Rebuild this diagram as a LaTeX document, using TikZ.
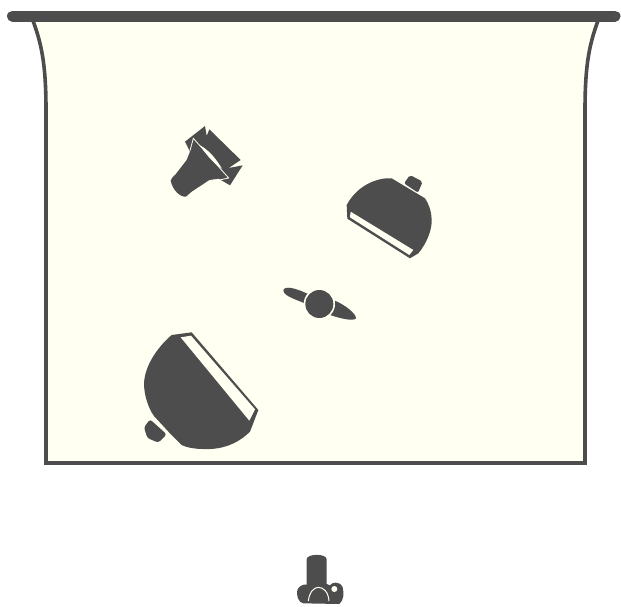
\documentclass[tikz,border=0pt]{standalone}
\usepackage{xcolor}
\definecolor{gear}{HTML}{4D4D4D}
\definecolor{paper}{HTML}{FFFFF2}
\begin{document}
\begin{tikzpicture}[
  x=1pt, y=-1pt,
  solid/.style={fill=gear, draw=none},
  cutout/.style={fill=paper, draw=none},
  glint/.style={draw=paper, line width=0.8pt, fill=none},
  zoomed/.style={shift={(#1)}, scale=1/3},
]
\useasboundingbox (0,0) rectangle (621,606);

% Backdrop
\draw[gear, fill=paper, line width=3.6pt, line join=miter]
  (32,18) .. controls (41,42) and (46,62) .. (46,110) -- (46,463) -- (585,463) -- (585,110)
  .. controls (585,62) and (590,42) .. (599,18);
\draw[gear, line width=11pt, line cap=round] (12.5,16) -- (615,16);

% Snoot light
\begin{scope}[zoomed={150,110}]
\fill[solid] (62,212) .. controls (64,205) and (70,198) .. (76,194) -- (110,150) -- (120,125) -- (105,95) -- (165,48)
  -- (170,78) -- (178,58) -- (272,150) -- (236,174) -- (278,166) -- (240,226) -- (206,206) -- (178,210) -- (125,245)
  -- (108,260) .. controls (90,262) and (68,240) .. (62,212) -- cycle;
\draw[glint] (120,122) -- (130,85) -- (236,204) -- (198,212);
\fill[cutout] (150,106) .. controls (180,122) and (200,150) .. (216,176) .. controls (190,160) and (170,135) .. (150,106) -- cycle;
\end{scope}

% Right softbox
\begin{scope}[zoomed={330,160}]
\fill[solid, rounded corners=2pt] (222,70) -- (240,45) -- (278,65) -- (264,98) -- cycle;
\fill[solid] (50,135) -- (52,176) -- (240,295) -- (265,280) .. controls (290,250) and (306,210) .. (305,180)
  .. controls (304,150) and (295,130) .. (285,115) -- (185,55) .. controls (150,52) and (85,70) .. (50,135) -- cycle;
\fill[cutout] (62,155) -- (250,270) -- (238,285) -- (60,172) -- cycle;
\end{scope}

% Subject
\begin{scope}[zoomed={270,270}]
\fill[solid] (40,62) .. controls (42,46) and (75,52) .. (122,76) -- (108,102) .. controls (85,90) and (42,80) .. (40,62) -- cycle;
\fill[solid] (195,92) .. controls (225,105) and (258,130) .. (258,145) .. controls (250,155) and (210,145) .. (180,135) -- cycle;
\fill[paper] (148,102) circle (47);
\fill[gear] (148,102) circle (42);
\end{scope}

% Left softbox
\begin{scope}[zoomed={130,320}]
\fill[solid, rounded corners=2.5pt] (42,322) -- (60,298) -- (110,343) -- (85,368) -- (52,354) -- cycle;
\fill[solid] (125,45) -- (185,37) -- (385,270) -- (360,335) .. controls (330,365) and (290,385) .. (240,387)
  .. controls (205,388) and (175,385) .. (155,375) -- (118,338) -- (72,288) .. controls (55,265) and (42,225) .. (42,190)
  .. controls (45,130) and (90,75) .. (125,45) -- cycle;
\fill[cutout] (152,52) -- (183,47) -- (375,268) -- (358,302) -- cycle;
\end{scope}

% Camera
\begin{scope}[zoomed={280,540}]
\fill[solid] (80,58) .. controls (80,40) and (140,40) .. (140,58) -- (140,132) -- (150,136) .. controls (155,126) and (180,122) .. (188,142)
  .. controls (192,160) and (192,180) .. (178,192) -- (70,190) .. controls (55,188) and (48,165) .. (52,150)
  .. controls (56,138) and (70,132) .. (80,134) -- cycle;
\fill[paper] (163,147) circle (9);
\draw[paper, line width=1pt] (85,183) .. controls (88,155) and (103,142) .. (115,142) .. controls (130,142) and (145,155) .. (147,183);
\end{scope}
\end{tikzpicture}
\end{document}
